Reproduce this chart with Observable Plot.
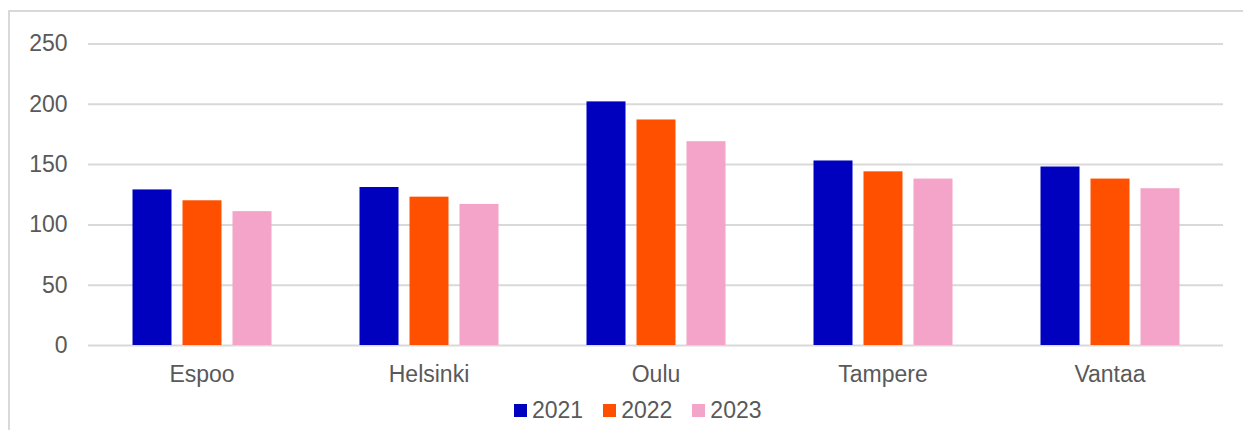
<!DOCTYPE html>
<html>
<head>
<meta charset="utf-8">
<script src="https://cdn.jsdelivr.net/npm/d3@7"></script>
<script src="https://cdn.jsdelivr.net/npm/@observablehq/plot@0.6"></script>
<style>
  html, body { margin: 0; padding: 0; background: #fff; width: 1243px; height: 430px; overflow: hidden; }
  body { font-family: "Liberation Sans", Arial, sans-serif; position: relative; }
  #frame { position: absolute; left: 8px; top: 10px; width: 1235px; height: 430px;
           border-top: 2px solid #d9d9d9; border-left: 2px solid #d9d9d9; }
  #chart { position: absolute; left: 0; top: 0; }
  #legend { position: absolute; left: 514px; top: 397px; display: flex; align-items: center;
            font-size: 23px; line-height: 26px; color: #595959; }
  .item { display: flex; align-items: center; margin-right: 20px; }
  .sw { width: 13px; height: 13px; margin-right: 5px; }
</style>
</head>
<body>
<div id="frame"><div id="chart"></div></div>
<div id="legend"></div>
<script>
const cities = ["Espoo", "Helsinki", "Oulu", "Tampere", "Vantaa"];
const years = ["2021", "2022", "2023"];
const colors = ["#0000BF", "#FF5000", "#F4A4C8"];
const v2021 = [129, 131, 202, 153, 148];
const v2022 = [120, 123, 187, 144, 138];
const v2023 = [111, 117, 169, 138, 130];
const yTicks = [0, 50, 100, 150, 200, 250];

const series = [v2021, v2022, v2023];
const data = [];
cities.forEach((c, i) => years.forEach((y, j) => data.push({city: c, year: y, value: series[j][i]})));

const plot = Plot.plot({
  width: 1233,
  height: 418,
  marginLeft: 77.5,
  marginRight: 19.5,
  marginTop: 31.5,
  marginBottom: 85,
  style: {fontFamily: "Liberation Sans, Arial, sans-serif", fontSize: "23px", color: "#595959", background: "transparent"},
  fx: {domain: cities, padding: 0, label: null},
  x: {domain: years, paddingInner: 0.22, paddingOuter: 0.878, axis: null},
  y: {domain: [0, 250], label: null},
  color: {domain: years, range: colors},
  marks: [
    Plot.ruleY(yTicks, {stroke: "#d9d9d9", strokeWidth: 2}),
    Plot.barY(data, {fx: "city", x: "year", y: "value", fill: "year"}),
    Plot.axisY({ticks: yTicks, tickSize: 0, tickPadding: 21, label: null, fontSize: 23, fill: "#595959"}),
    Plot.axisFx({anchor: "bottom", tickSize: 0, tickPadding: 20, label: null, fontSize: 23, fill: "#595959"})
  ]
});
document.getElementById("chart").appendChild(plot);

const legend = document.getElementById("legend");
years.forEach((y, i) => {
  const it = document.createElement("div");
  it.className = "item";
  const sw = document.createElement("div");
  sw.className = "sw";
  sw.style.background = colors[i];
  const t = document.createElement("span");
  t.textContent = y;
  it.appendChild(sw); it.appendChild(t);
  legend.appendChild(it);
});
</script>
</body>
</html>
